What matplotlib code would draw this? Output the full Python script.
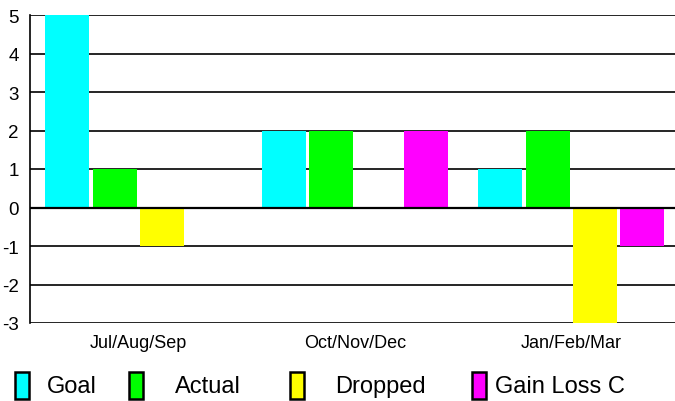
import matplotlib.pyplot as plt
from matplotlib.patches import Rectangle
import numpy as np

plt.rcParams['font.family'] = ['Liberation Sans', 'DejaVu Sans']
plt.rcParams['axes.unicode_minus'] = False

categories = ['Jul/Aug/Sep', 'Oct/Nov/Dec', 'Jan/Feb/Mar']
series_names = ['Goal', 'Actual', 'Dropped', 'Gain Loss C']
goal = [5, 2, 1]
actual = [1, 2, 2]
dropped = [-1, 0, -3]
gain_loss = [0, 2, -1]
colors = ['#00ffff', '#00ff00', '#ffff00', '#ff00ff']

fig = plt.figure(figsize=(6.75, 4.02), dpi=100)
# axes extends a little past the right edge of the image
ax = fig.add_axes([30 / 675, 78 / 402, 649.5 / 675, 308 / 402])

x = np.arange(len(categories))
width = 0.203
step = 0.2185
for i, (vals, c) in enumerate(zip([goal, actual, dropped, gain_loss], colors)):
    ax.bar(x + (i - 1.5) * step, vals, width, color=c, zorder=3)

ax.set_xlim(-0.5, 2.5)
ax.set_ylim(-3, 5)
ax.set_yticks(range(-3, 6))
for v in range(-3, 6):
    ax.axhline(v, color='black', lw=1.2, zorder=2)
ax.axhline(0, color='black', lw=1.6, zorder=4)
ax.set_xticks(x)
ax.set_xticklabels(categories, fontsize=13)
ax.tick_params(axis='x', length=0, pad=8)
ax.tick_params(axis='y', length=0, pad=8, labelsize=13.5)
for s in ['top', 'right', 'bottom']:
    ax.spines[s].set_visible(False)
ax.spines['left'].set_linewidth(1.2)

# legend
leg_x = [15, 129, 290, 472]
txt_x = [47, 175, 335, 495]
for lx, tx, name, c in zip(leg_x, txt_x, series_names, colors):
    fig.patches.append(Rectangle((lx / 675, (402 - 400) / 402), 14 / 675, 27 / 402,
                                 transform=fig.transFigure, facecolor=c,
                                 edgecolor='black', lw=1.8))
    fig.text(tx / 675, (402 - 387) / 402, name, fontsize=17, va='center', ha='left')

fig.savefig('out.png', dpi=100)
